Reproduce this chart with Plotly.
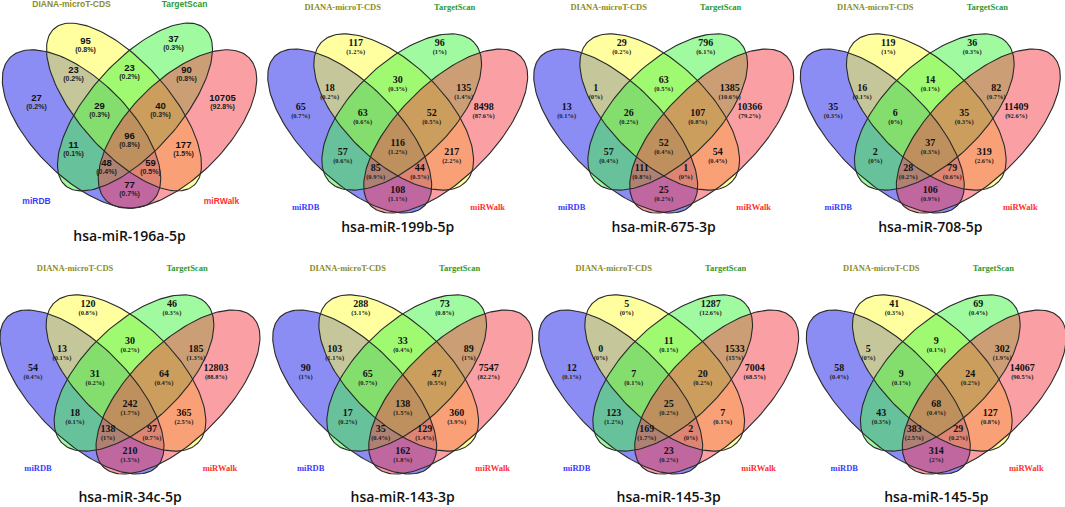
import numpy as np
import plotly.graph_objects as go

W, H = 1065, 507

set_names = ["miRDB", "DIANA-microT-CDS", "TargetScan", "miRWalk"]
set_colors = ["#3c3cff", "#8c8c28", "#2e9a2e", "#ff3030"]
fill_colors = ["rgba(25,25,235,0.5)", "rgba(255,255,65,0.5)",
               "rgba(65,245,65,0.5)", "rgba(245,65,75,0.5)"]

mirnas = ["hsa-miR-196a-5p", "hsa-miR-199b-5p", "hsa-miR-675-3p", "hsa-miR-708-5p",
          "hsa-miR-34c-5p", "hsa-miR-143-3p", "hsa-miR-145-3p", "hsa-miR-145-5p"]

# A = miRDB, B = DIANA-microT-CDS, C = TargetScan, D = miRWalk
regions = ["A", "B", "C", "D", "AB", "BC", "CD", "ABC", "BCD", "AC", "BD", "ABCD", "ACD", "ABD", "AD"]

counts_196a_5p = [27, 95, 37, 10705, 23, 23, 90, 29, 40, 11, 177, 96, 48, 59, 77]
pct_196a_5p = [0.2, 0.8, 0.3, 92.8, 0.2, 0.2, 0.8, 0.3, 0.3, 0.1, 1.5, 0.8, 0.4, 0.5, 0.7]
counts_199b_5p = [65, 117, 96, 8498, 18, 30, 135, 63, 52, 57, 217, 116, 85, 44, 108]
pct_199b_5p = [0.7, 1.2, 1, 87.6, 0.2, 0.3, 1.4, 0.6, 0.5, 0.6, 2.2, 1.2, 0.9, 0.5, 1.1]
counts_675_3p = [13, 29, 796, 10366, 1, 63, 1385, 26, 107, 57, 54, 52, 111, 1, 25]
pct_675_3p = [0.1, 0.2, 6.1, 79.2, 0, 0.5, 10.6, 0.2, 0.8, 0.4, 0.4, 0.4, 0.8, 0, 0.2]
counts_708_5p = [35, 119, 36, 11409, 16, 14, 82, 6, 35, 2, 319, 37, 28, 79, 106]
pct_708_5p = [0.3, 1, 0.3, 92.6, 0.1, 0.1, 0.7, 0, 0.3, 0, 2.6, 0.3, 0.2, 0.6, 0.9]
counts_34c_5p = [54, 120, 46, 12803, 13, 30, 185, 31, 64, 18, 365, 242, 138, 97, 210]
pct_34c_5p = [0.4, 0.8, 0.3, 88.8, 0.1, 0.2, 1.3, 0.2, 0.4, 0.1, 2.5, 1.7, 1, 0.7, 1.5]
counts_143_3p = [90, 288, 73, 7547, 103, 33, 89, 65, 47, 17, 360, 138, 35, 129, 162]
pct_143_3p = [1, 3.1, 0.8, 82.2, 1.1, 0.4, 1, 0.7, 0.5, 0.2, 3.9, 1.5, 0.4, 1.4, 1.8]
counts_145_3p = [12, 5, 1287, 7004, 0, 11, 1533, 7, 20, 123, 7, 25, 169, 2, 23]
pct_145_3p = [0.1, 0, 12.6, 68.5, 0, 0.1, 15, 0.1, 0.2, 1.2, 0.1, 0.2, 1.7, 0, 0.2]
counts_145_5p = [58, 41, 69, 14067, 5, 9, 302, 9, 24, 43, 127, 68, 383, 29, 314]
pct_145_5p = [0.4, 0.3, 0.4, 90.5, 0, 0.1, 1.9, 0.1, 0.2, 0.3, 0.8, 0.4, 2.5, 0.2, 2]

all_counts = [counts_196a_5p, counts_199b_5p, counts_675_3p, counts_708_5p,
              counts_34c_5p, counts_143_3p, counts_145_3p, counts_145_5p]
all_pct = [pct_196a_5p, pct_199b_5p, pct_675_3p, pct_708_5p,
           pct_34c_5p, pct_143_3p, pct_145_3p, pct_145_5p]

# two drawing templates (first panel was made with a sans-serif version of the tool)
# ellipse = (centre x, centre y, semi-major, semi-minor, tilt in degrees)
templates = {
    "sans": dict(
        font="Liberation Sans", nsize=9.5, psize=7, lsize=8.5, pdy=8.5,
        blue=(-48, 129, 101, 48.5, 45), yellow=(-5.5, 107, 105, 45, 48.3),
        anchors=[(-93, 99), (-44, 42), (44, 40), (93, 99), (-56, 71), (0, 69), (57, 71),
                 (-30, 107), (31, 107), (-56, 146), (54, 146), (0, 137), (-23, 164),
                 (21, 164), (0, 186)],
        labels=[(-93, 202), (-58, 5), (55, 5), (92, 202)]),
    "serif": dict(
        font="Liberation Serif", nsize=10, psize=6.5, lsize=8.5, pdy=9,
        blue=(-48, 131, 105.8, 47.4, 45), yellow=(-4, 112, 100.4, 49, 44),
        anchors=[(-97, 107), (-42, 43), (42, 43), (86, 107), (-68, 88), (0, 80), (66, 88),
                 (-35, 113), (34, 113), (-55, 152), (54, 152), (0, 143), (-22, 168),
                 (22, 168), (0, 190)],
        labels=[(-92, 208), (-55, 8), (57, 8), (90, 208)]),
}

panel_style = ["sans"] + ["serif"] * 7
panel_cx = [129.5, 397.7, 663.7, 930.3, 130, 402.7, 668.7, 936.3]
panel_dy = [0, 0, 0, 0, 261, 261, 261, 261]
title_y = [237, 228, 228, 228, 498, 498, 498, 498]


def ellipse(cx, cy, a, b, ang):
    t = np.linspace(0, 2 * np.pi, 160)
    th = np.radians(ang)
    x = cx + a * np.cos(t) * np.cos(th) - b * np.sin(t) * np.sin(th)
    y = cy + a * np.cos(t) * np.sin(th) + b * np.sin(t) * np.cos(th)
    return x, y


fig = go.Figure()

for i, name in enumerate(mirnas):
    tp = templates[panel_style[i]]
    cx, dy = panel_cx[i], panel_dy[i]
    bx, by, ba, bb, bang = tp["blue"]
    yx, yy, ya, yb, yang = tp["yellow"]
    # blue, yellow, green (mirror of yellow), red (mirror of blue)
    geo = [(bx, by, ba, bb, bang), (yx, yy, ya, yb, yang),
           (-yx, yy, ya, yb, -yang), (-bx, by, ba, bb, -bang)]
    shapes = [ellipse(cx + g[0], dy + g[1], g[2], g[3], g[4]) for g in geo]
    for k, (ex, ey) in enumerate(shapes):
        fig.add_trace(go.Scatter(x=ex, y=ey, mode="lines", fill="toself",
                                 fillcolor=fill_colors[k], line=dict(width=0),
                                 hoverinfo="skip", showlegend=False))
    for ex, ey in shapes:
        fig.add_trace(go.Scatter(x=ex, y=ey, mode="lines",
                                 line=dict(color="#2a2a2a", width=1.1),
                                 hoverinfo="skip", showlegend=False))

    ax = [cx + p[0] for p in tp["anchors"]]
    ay = [dy + p[1] for p in tp["anchors"]]
    fig.add_trace(go.Scatter(
        x=ax, y=ay, mode="text", text=[str(c) for c in all_counts[i]],
        textfont=dict(family=tp["font"], size=tp["nsize"], color="#111", weight="bold"),
        hoverinfo="skip", showlegend=False))
    fig.add_trace(go.Scatter(
        x=ax, y=[v + tp["pdy"] for v in ay], mode="text",
        text=[f"({p:g}%)" for p in all_pct[i]],
        textfont=dict(family=tp["font"], size=tp["psize"], color="#222", weight="bold"),
        hoverinfo="skip", showlegend=False))
    fig.add_trace(go.Scatter(
        x=[cx + p[0] for p in tp["labels"]], y=[dy + p[1] for p in tp["labels"]],
        mode="text", text=set_names,
        textfont=dict(family=tp["font"], size=tp["lsize"], color=set_colors, weight="bold"),
        hoverinfo="skip", showlegend=False))
    fig.add_trace(go.Scatter(
        x=[cx], y=[title_y[i]], mode="text", text=[name],
        textfont=dict(family="Open Sans", size=14, color="#111", weight=600),
        hoverinfo="skip", showlegend=False))

fig.update_layout(
    width=W, height=H,
    margin=dict(l=0, r=0, t=0, b=0),
    paper_bgcolor="white", plot_bgcolor="white",
    xaxis=dict(range=[0, W], visible=False, fixedrange=True),
    yaxis=dict(range=[H, 0], visible=False, fixedrange=True),
)

# the page body has a default margin; remove it so the figure fills the window
fig.write_html("out.html", config={"displayModeBar": False},
               post_script="document.body.style.margin='0px';")
